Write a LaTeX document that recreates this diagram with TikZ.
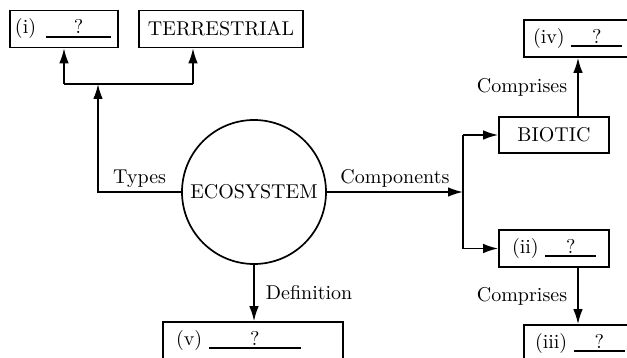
\documentclass[tikz,border=0pt]{standalone}
\usetikzlibrary{arrows.meta,calc}
\newcommand\blankq[1]{\rlap{\rule[-1.8pt]{#1}{0.9pt}}\makebox[#1]{?}}
\begin{document}
\begin{tikzpicture}[x=0.5pt,y=-0.5pt,
  box/.style={draw, line width=0.85pt, minimum height=18.5pt, inner ysep=0pt},
  lbox/.style={box, align=left},
  conn/.style={line width=0.85pt},
  arr/.style={conn, -{Latex[length=7.5pt,width=4.8pt]}},
  lbl/.style={inner sep=2pt}]
\useasboundingbox (0,0) rectangle (627,358);
\clip (0,0) rectangle (627,358);

% nodes
\node[lbox, text width=49pt, inner xsep=2.5pt] (bi) at (64,29) {(i)\hspace{5pt}\blankq{32.5pt}};
\node[box, minimum width=82pt] (terr) at (221,29) {TERRESTRIAL};
\node[circle, draw, line width=0.85pt, minimum size=72pt, inner sep=0pt] (eco) at (254,192) {ECOSYSTEM};
\node[box, minimum width=55pt, minimum height=18pt] (biotic) at (554,135) {BIOTIC};
\node[lbox, text width=42pt, inner xsep=6.5pt] (bii) at (554,248.5) {(ii)~\blankq{25.5pt}};
\node[lbox, text width=49pt, inner xsep=4.5pt] (biv) at (582,38.5) {(iv)~\blankq{25.5pt}};
\node[lbox, text width=47pt, inner xsep=5.5pt] (biii) at (582,343.5) {(iii)~\blankq{25.5pt}};
\node[lbox, text width=77pt, inner xsep=6.5pt] (bv) at (253,340.5) {(v)~\blankq{46pt}};

\coordinate (jT) at (98,84);
\coordinate (jL) at (64,84);
\coordinate (jR) at (193,84);
\coordinate (jC) at (463,192);
\coordinate (jU) at (463,135);
\coordinate (jD) at (463,248.5);

% Types
\draw[arr] (eco.west) -| node[pos=0.25, above, lbl, name=ltypes] {Types} (jT);
\draw[conn] (jL) -- (jR);
\draw[arr] (jL) -- (bi.south);
\draw[arr] (jR) -- (jR |- terr.south);

% Components
\draw[arr] (eco.east) -- node[above, lbl, name=lcomp] {Components} (jC);
\draw[conn] (jU) -- (jD);
\draw[arr] (jU) -- (biotic.west);
\draw[arr] (jD) -- (bii.west);

% Comprises
\draw[arr] ([xshift=12pt]biotic.north) -- node[left, inner sep=5pt, name=lcomp1] {Comprises} ([xshift=12pt]biotic.north |- biv.south);
\draw[arr] ([xshift=12pt]bii.south) -- node[left, inner sep=5pt, name=lcomp2] {Comprises} ([xshift=12pt]bii.south |- biii.north);

% Definition
\draw[arr] (eco.south) -- node[right, inner sep=5.5pt, name=ldef] {Definition} (eco.south |- bv.north);
\end{tikzpicture}
\end{document}
